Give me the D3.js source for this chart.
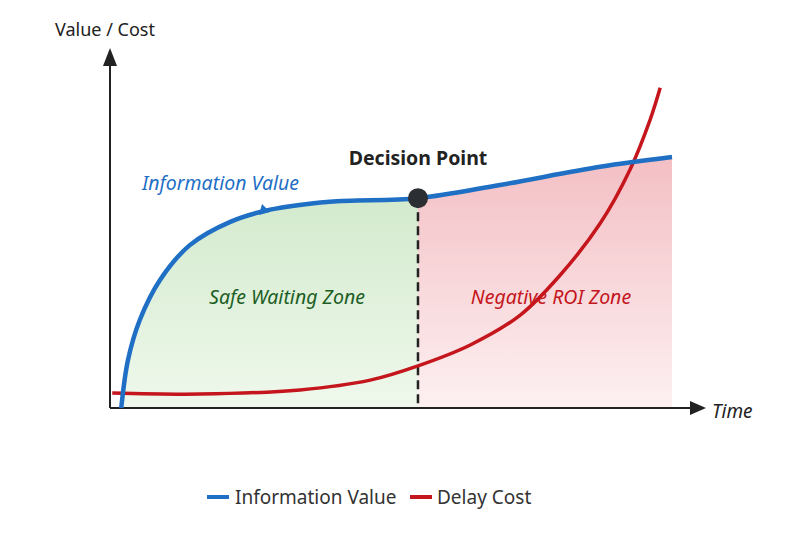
<!DOCTYPE html>
<html><head><meta charset="utf-8">
<script src="https://cdn.jsdelivr.net/npm/d3@7"></script>
<style>body{margin:0;background:#fff}svg{font-family:"Noto Sans","Open Sans",sans-serif}</style>
</head><body><svg width="800" height="533"></svg>
<script>
const infoX=[2,3.2,5.3,8.9,14.2,21.4,28.5,39.1,54.8,69.4,87.2,100];
const infoY=[0,13.8,25.3,36.8,46.8,53.5,57,59.3,60.3,64.1,69.3,72.1];
const costX=[0.4,16,33.8,46.3,54.8,64.1,73,80,87.2,92.5,96.1,97.9];
const costY=[4.3,4,5.2,8,12.1,18.1,26.7,38,53,68.4,82.8,92];
const decisionX=54.8;
const legendLabels=["Information Value","Delay Cost"];
const blue="#1f6fc5",red="#c4161c";

const svg=d3.select("svg");
const x=d3.scaleLinear().domain([0,100]).range([110,672]);
const y=d3.scaleLinear().domain([0,100]).range([408,60]);
const info=infoX.map((v,i)=>[v,infoY[i]]);
const cost=costX.map((v,i)=>[v,costY[i]]);
const defs=svg.append("defs");
function grad(id,c1,c2){const g=defs.append("linearGradient").attr("id",id).attr("x1",0).attr("y1",0).attr("x2",0).attr("y2",1);
g.append("stop").attr("offset",0).attr("stop-color",c1);g.append("stop").attr("offset",1).attr("stop-color",c2);}
grad("gg","#d3eacd","#eff8ec");grad("gp","#f3bfc4","#fdf0f1");
const curve=d3.curveCatmullRom.alpha(0.5);
const area=d3.area().x(d=>x(d[0])).y0(y(0)).y1(d=>y(d[1])).curve(curve);
const left=info.filter(d=>d[0]<=decisionX), right=info.filter(d=>d[0]>=decisionX);
svg.append("path").attr("d",area(left)).attr("fill","url(#gg)");
svg.append("path").attr("d",area(right)).attr("fill","url(#gp)");
svg.append("line").attr("x1",110).attr("y1",408).attr("x2",110).attr("y2",62).attr("stroke","#222").attr("stroke-width",2);
svg.append("path").attr("d","M103,66 L110,48 L117,66 Z").attr("fill","#222");
svg.append("line").attr("x1",110).attr("y1",408).attr("x2",695).attr("y2",408).attr("stroke","#222").attr("stroke-width",2);
svg.append("path").attr("d","M690,401 L706,408 L690,415 Z").attr("fill","#222");
svg.append("text").attr("x",55).attr("y",36).attr("font-size",18).attr("fill","#222").text("Value / Cost");
svg.append("text").attr("x",712).attr("y",418).attr("font-size",19).attr("font-style","italic").attr("fill","#222").text("Time");
svg.append("line").attr("x1",x(decisionX)).attr("x2",x(decisionX)).attr("y1",y(60.3)).attr("y2",408).attr("stroke","#222").attr("stroke-width",2.5).attr("stroke-dasharray","9,5");
const line=d3.line().x(d=>x(d[0])).y(d=>y(d[1])).curve(curve);
svg.append("path").attr("d",line(cost)).attr("fill","none").attr("stroke",red).attr("stroke-width",3.5);
svg.append("path").attr("d",line(info)).attr("fill","none").attr("stroke",blue).attr("stroke-width",4.5);
svg.append("path").attr("d","M259,215 L262,204 L270,212 Z").attr("fill",blue);
svg.append("circle").attr("cx",x(decisionX)).attr("cy",y(60.3)).attr("r",10).attr("fill","#2b2f33");
svg.append("text").attr("x",418).attr("y",165).attr("text-anchor","middle").attr("font-size",19.5).attr("font-weight","bold").attr("fill","#222").text("Decision Point");
svg.append("text").attr("x",142).attr("y",190).attr("font-size",19.5).attr("font-style","italic").attr("fill",blue).text("Information Value");
svg.append("text").attr("x",287).attr("y",304).attr("text-anchor","middle").attr("font-size",19.5).attr("font-style","italic").attr("fill","#1d5e25").text("Safe Waiting Zone");
svg.append("text").attr("x",551).attr("y",304).attr("text-anchor","middle").attr("font-size",19.5).attr("font-style","italic").attr("fill",red).text("Negative ROI Zone");
const lg=svg.append("g");
lg.append("line").attr("x1",207).attr("x2",229).attr("y1",497).attr("y2",497).attr("stroke",blue).attr("stroke-width",4);
lg.append("text").attr("x",235).attr("y",504).attr("font-size",19).attr("fill","#333").text(legendLabels[0]);
lg.append("line").attr("x1",410).attr("x2",432).attr("y1",497).attr("y2",497).attr("stroke",red).attr("stroke-width",4);
lg.append("text").attr("x",437).attr("y",504).attr("font-size",19).attr("fill","#333").text(legendLabels[1]);
</script></body></html>
